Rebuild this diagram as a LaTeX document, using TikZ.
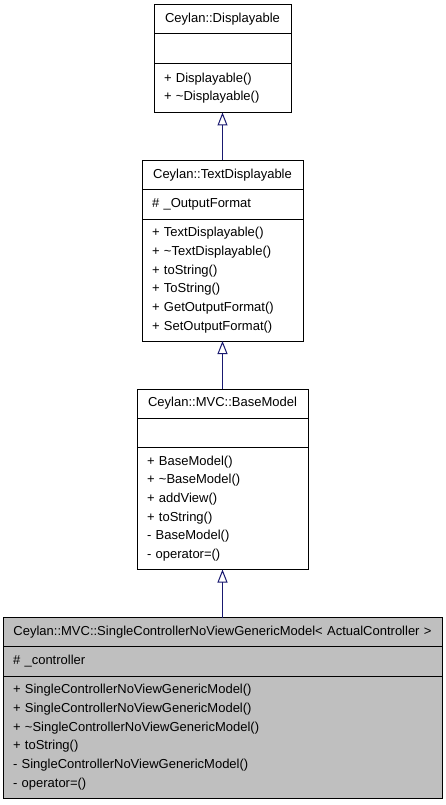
\documentclass[tikz,border=0pt]{standalone}
\usepackage{fontspec}
\setmainfont{Liberation Sans}
\usetikzlibrary{arrows.meta,positioning}
\definecolor{umlgrey}{gray}{0.75}
\definecolor{umlblue}{RGB}{25,25,112}

\begin{document}
\begin{tikzpicture}[x=1pt,y=-1pt,node distance=48pt,>={Triangle[open,length=13pt,width=10pt]}]
	\tikzstyle{classpart}=[rectangle, draw=black, fill=white, line width=1pt, outer sep=0pt, inner xsep=10pt, inner ysep=3pt, font=\fontsize{13pt}{18.7pt}\selectfont, align=left]
	\tikzstyle{classname}=[classpart, align=center, minimum height=29pt]
	\tikzstyle{classattr}=[classpart, minimum height=29.5pt]
	\tikzstyle{classops}=[classpart, minimum height=122pt]
	\tikzstyle{every edge}=[draw=umlblue, line width=1pt, ->]
	
	\useasboundingbox[fill=white] (0,0) rectangle (445,805);
	
	\node[classname, text width=117pt] (1) at (222.5,19.5) {Ceylan::Displayable};
	\node[classattr, text width=117pt, below=0pt of 1] (1a) {};
	\node[classops, text width=117pt, below=0pt of 1a, minimum height=49pt] (1b) {+ Displayable()\\+ \textasciitilde Displayable()};
	
	\node[classname, text width=141pt, below=of 1b] (2) {Ceylan::TextDisplayable};
	\node[classattr, text width=141pt, below=0pt of 2] (2a) {\# \_OutputFormat};
	\node[classops, text width=141pt, below=0pt of 2a] (2b) {+ TextDisplayable()\\+ \textasciitilde TextDisplayable()\\+ toString()\\+ ToString()\\+ GetOutputFormat()\\+ SetOutputFormat()};
	
	\node[classname, text width=151pt, below=of 2b] (3) {Ceylan::MVC::BaseModel};
	\node[classattr, text width=151pt, below=0pt of 3] (3a) {};
	\node[classops, text width=151pt, below=0pt of 3a] (3b) {+ BaseModel()\\+ \textasciitilde BaseModel()\\+ addView()\\+ toString()\\- BaseModel()\\- operator=()};
	
	\node[classname, text width=419pt, below=of 3b, fill=umlgrey] (4) {Ceylan::MVC::SingleControllerNoViewGenericModel< ActualController >};
	\node[classattr, text width=419pt, below=0pt of 4, fill=umlgrey] (4a) {\# \_controller};
	\node[classops, text width=419pt, below=0pt of 4a, fill=umlgrey] (4b) {+ SingleControllerNoViewGenericModel()\\+ SingleControllerNoViewGenericModel()\\+ \textasciitilde SingleControllerNoViewGenericModel()\\+ toString()\\- SingleControllerNoViewGenericModel()\\- operator=()};
	
	\path (2) edge (1b);
	\path (3) edge (2b);
	\path (4) edge (3b);
	
\end{tikzpicture}
\end{document}
